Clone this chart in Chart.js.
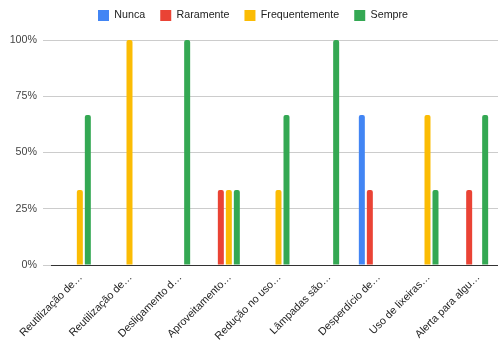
<!DOCTYPE html>
<html>
<head>
<meta charset="utf-8">
<script src="https://cdn.jsdelivr.net/npm/chart.js@4.4.1/dist/chart.umd.min.js"></script>
<style>
  html, body { margin: 0; padding: 0; background: #fff; }
  #wrap { width: 498px; height: 352px; }
</style>
</head>
<body>
<div id="wrap"><canvas id="answersChart" width="498" height="352"></canvas></div>
<script>
const categories = [
  'Reutilização de…',
  'Reutilização de…',
  'Desligamento d…',
  'Aproveitamento…',
  'Redução no uso…',
  'Lâmpadas são…',
  'Desperdício de…',
  'Uso de lixeiras…',
  'Alerta para algu…'
];

// percent of answers per category
const nunca          = [0, 0, 0, 0, 0, 0, 66.67, 0, 0];
const raramente      = [0, 0, 0, 33.33, 0, 0, 33.33, 0, 33.33];
const frequentemente = [33.33, 100, 0, 33.33, 33.33, 0, 0, 66.67, 0];
const sempre         = [66.67, 0, 100, 33.33, 66.67, 100, 0, 33.33, 66.67];

const yTicks = [0, 25, 50, 75, 100];

const fontFamily = '"Liberation Sans", Arial, sans-serif';
const fontSize = 10.7;

function series(label, data, color) {
  return {
    label: label,
    data: data,
    backgroundColor: color,
    borderRadius: { topLeft: 2, topRight: 2 },
    borderSkipped: 'bottom',
    categoryPercentage: 0.644,
    barPercentage: 0.75
  };
}

// legend: extra room below it and nudged right a bit
const legendTweak = {
  id: 'legendTweak',
  beforeInit(chart) {
    const origFit = chart.legend.fit;
    chart.legend.fit = function () {
      origFit.bind(chart.legend)();
      this.height += 9;
    };
  },
  afterLayout(chart) {
    chart.legend.left += 4;
    chart.legend.right += 4;
  }
};

const ctx = document.getElementById('answersChart').getContext('2d');

const config = {
  type: 'bar',
  data: {
    labels: categories,
    datasets: [
      series('Nunca', nunca, '#4285F4'),
      series('Raramente', raramente, '#EA4335'),
      series('Frequentemente', frequentemente, '#FBBC04'),
      series('Sempre', sempre, '#34A853')
    ]
  },
  options: {
    responsive: false,
    animation: false,
    layout: {
      padding: { left: 0, right: 0, top: -5, bottom: 0 }
    },
    plugins: {
      legend: {
        position: 'top',
        labels: {
          boxWidth: 11,
          boxHeight: 11,
          padding: 15,
          color: '#222',
          font: { family: fontFamily, size: fontSize }
        }
      },
      tooltip: { enabled: false }
    },
    scales: {
      x: {
        grid: { display: false, drawTicks: false },
        border: { display: true, color: '#333', width: 1 },
        afterFit: (scale) => { scale.height = 87; },
        ticks: {
          autoSkip: false,
          minRotation: 45,
          maxRotation: 45,
          padding: 6,
          labelOffset: 5,
          color: '#222',
          font: { family: fontFamily, size: fontSize }
        }
      },
      y: {
        min: 0,
        max: 100,
        afterFit: (scale) => { scale.width = 51; },
        afterBuildTicks: (scale) => {
          scale.ticks = yTicks.map(v => ({ value: v }));
        },
        grid: { color: '#ccc', lineWidth: 1, tickLength: 8 },
        border: { display: false },
        ticks: {
          padding: 6,
          color: '#444',
          font: { family: fontFamily, size: fontSize },
          callback: (v) => v + '%'
        }
      }
    }
  },
  plugins: [legendTweak]
};

const answersChart = new Chart(ctx, config);
</script>
</body>
</html>
